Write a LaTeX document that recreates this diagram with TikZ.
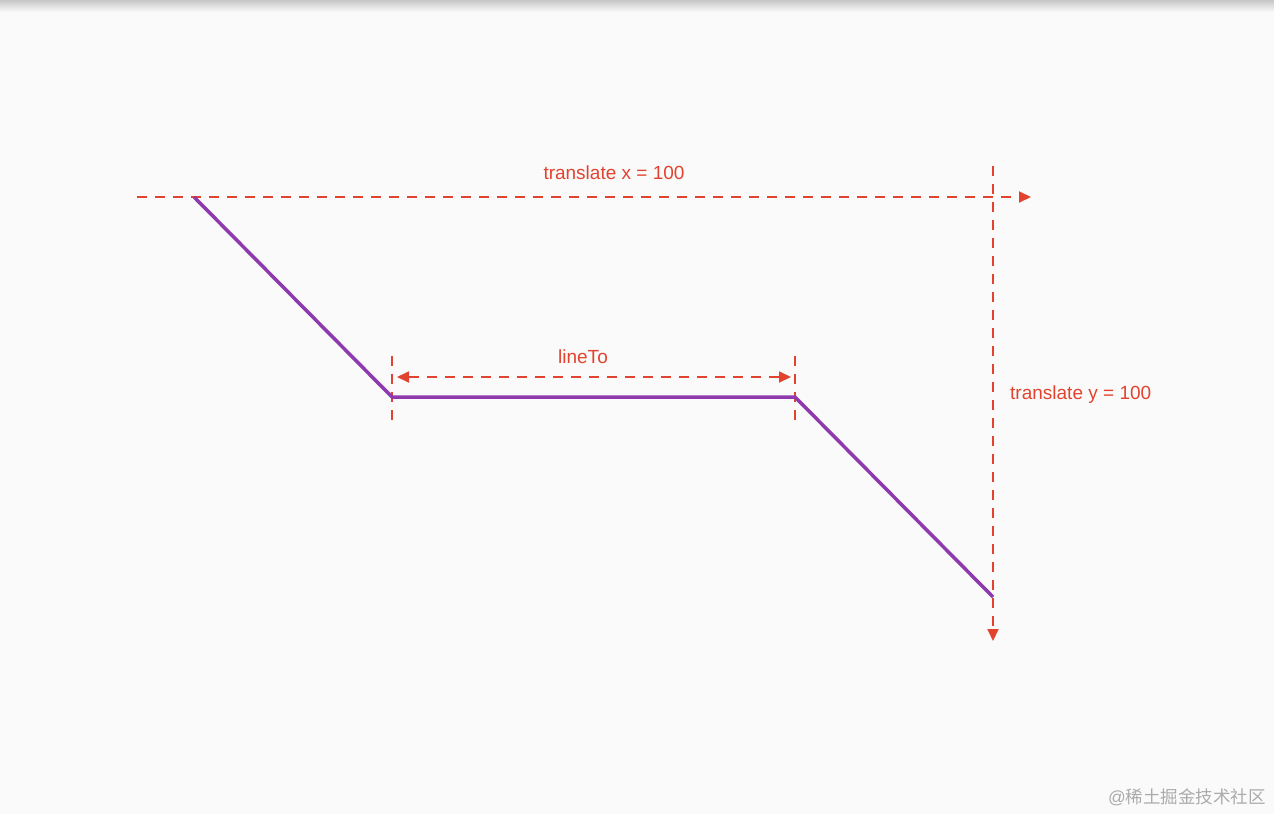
\documentclass[tikz,border=0pt]{standalone}
\usepackage{fontspec}
\setmainfont{Liberation Sans}
\newfontfamily\cjk{Noto Sans CJK SC}
\usetikzlibrary{arrows.meta}
\definecolor{bg}{HTML}{FAFAFA}
\definecolor{redl}{HTML}{E2432E}
\definecolor{purp}{HTML}{8E3AAE}
\definecolor{wm}{HTML}{ABABAB}
\tikzset{
  tip/.tip={Triangle[length=12pt,width=11pt]},
  guide/.style={draw=redl, line width=1.8pt, dash pattern=on 10pt off 8pt},
  arr/.style={-tip},
  curve/.style={draw=purp, line width=3.5pt, line join=miter},
  lbl/.style={text=redl, font=\fontsize{19}{21}\selectfont, inner sep=0pt},
}
\begin{document}
\begin{tikzpicture}[x=1pt,y=-1pt]
\useasboundingbox (0,0) rectangle (1274,814);
\fill[bg] (0,0) rectangle (1274,814);
\shade[top color=black!22, bottom color=bg] (0,0) rectangle (1274,12);
% coordinates
\coordinate (hx0) at (137,197);
\coordinate (hx1) at (1031,197);
\coordinate (vy0) at (993,166);
\coordinate (vy1) at (993,641);
\coordinate (p0) at (194,197);
\coordinate (p1) at (392,397);
\coordinate (p2) at (795,397);
\coordinate (p3) at (993,597);
\coordinate (t1a) at (392,356);
\coordinate (t1b) at (392,424);
\coordinate (t2a) at (795,356);
\coordinate (t2b) at (795,424);
\coordinate (la) at (397,377);
\coordinate (lb) at (791,377);
% guides
\draw[guide, arr] (hx0) -- (hx1);
\draw[guide, arr] (vy0) -- (vy1);
\draw[guide] (t1a) -- (t1b);
\draw[guide] (t2a) -- (t2b);
\draw[guide, tip-tip] (la) -- (lb);
% path
\draw[curve] (p0) -- (p1) -- (p2) -- (p3);
% labels
\node[lbl] (tx) at (614,173) {translate x = 100};
\node[lbl] (lt) at (583,357) {lineTo};
\node[lbl, anchor=west] (ty) at (1010,395) {translate y = 100};
\node[text=wm, font=\fontsize{17.5}{19}\selectfont, inner sep=0pt, anchor=east] (wmk) at (1266,797) {@\cjk 稀土掘金技术社区};
\end{tikzpicture}
\end{document}
